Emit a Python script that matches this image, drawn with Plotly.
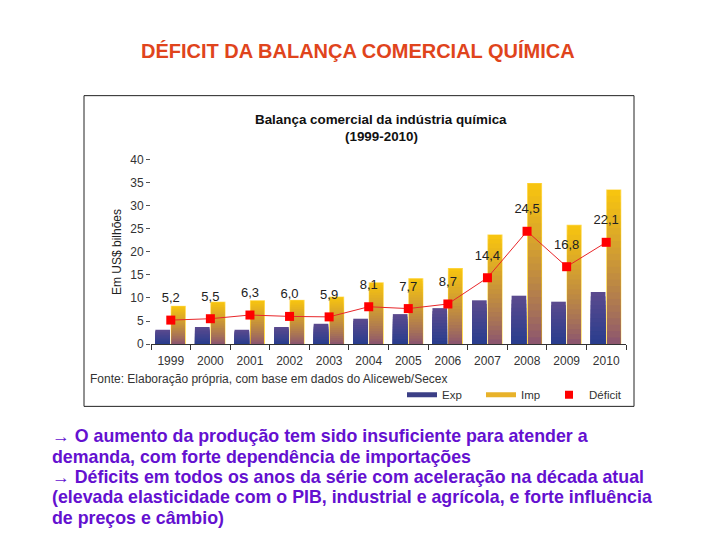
import plotly.graph_objects as go

years = ["1999", "2000", "2001", "2002", "2003", "2004", "2005", "2006", "2007", "2008", "2009", "2010"]
exp_vals = [3.1, 3.7, 3.1, 3.7, 4.4, 5.5, 6.5, 7.8, 9.5, 10.5, 9.2, 11.3]
imp_vals = [8.3, 9.2, 9.5, 9.6, 10.3, 13.4, 14.3, 16.5, 23.8, 35.0, 25.9, 33.6]
deficit_vals = [5.2, 5.5, 6.3, 6.0, 5.9, 8.1, 7.7, 8.7, 14.4, 24.5, 16.8, 22.1]
y_ticks = [0, 5, 10, 15, 20, 25, 30, 35, 40]

W, H = 720, 540
FONT = "Arial, Liberation Sans, sans-serif"


def px(x):
    return x / W


def py(y):
    return 1 - y / H


def lerp(c1, c2, t):
    return "rgb({},{},{})".format(*[round(a + (b - a) * t) for a, b in zip(c1, c2)])


fig = go.Figure()

# Exp bars with vertical gradient (overlay of fractions of each value)
EXP_TOP, EXP_BOT = (90, 74, 142), (38, 60, 142)
N_EXP = 12
for k in range(N_EXP):
    f = 1 - k / N_EXP
    fig.add_trace(go.Bar(
        x=years, y=[v * f for v in exp_vals],
        offset=-0.39, width=0.37,
        marker=dict(color=lerp(EXP_BOT, EXP_TOP, f), line=dict(width=0)),
        showlegend=False, hoverinfo="skip" if k else "x+y", name="Exp",
    ))

# Imp bars: light border + gradient (gold top -> mauve bottom)
fig.add_trace(go.Bar(
    x=years, y=imp_vals, offset=0.0, width=0.38,
    marker=dict(color="#FFD84A", line=dict(width=0)),
    showlegend=False, name="Imp",
))
IMP_TOP, IMP_BOT = (247, 196, 16), (132, 78, 118)
N_IMP = 24
for k in range(N_IMP):
    f = 1 - k / N_IMP
    fig.add_trace(go.Bar(
        x=years, y=[v * f - (0.12 if k == 0 else 0) for v in imp_vals],
        offset=0.025, width=0.33,
        marker=dict(color=lerp(IMP_BOT, IMP_TOP, f ** 0.8), line=dict(width=0)),
        showlegend=False, hoverinfo="skip", name="Imp",
    ))

# Deficit line
fig.add_trace(go.Scatter(
    x=years, y=deficit_vals, mode="lines+markers", name="Déficit",
    line=dict(color="#E8262A", width=1),
    marker=dict(symbol="square", size=9, color="#FF0000"),
    showlegend=False,
))
# Deficit value labels (invisible larger marker pushes text up)
fig.add_trace(go.Scatter(
    x=years, y=deficit_vals, mode="markers+text", texttemplate="%{y:.1f}",
    textposition="top center", textfont=dict(family=FONT, size=13, color="#222"),
    marker=dict(size=22, opacity=0), showlegend=False, hoverinfo="skip",
))

# legend entries
fig.add_trace(go.Scatter(x=[years[0]], y=[None], mode="lines", name="Exp",
                         line=dict(color="#3B3F86", width=5), legend="legend"))
fig.add_trace(go.Scatter(x=[years[0]], y=[None], mode="lines", name="Imp",
                         line=dict(color="#E8B22A", width=5), legend="legend"))
fig.add_trace(go.Scatter(x=[years[0]], y=[None], mode="markers", name="Déficit",
                         marker=dict(symbol="square", size=8, color="#FF0000"), legend="legend2"))

annotations = []
# slide title
annotations.append(dict(
    x=px(358), y=py(45), xref="paper", yref="paper", xanchor="center", yanchor="middle",
    text="<b>DÉFICIT DA BALANÇA COMERCIAL QUÍMICA</b>", showarrow=False,
    font=dict(family=FONT, size=20, color="#E0441C"),
))
# chart title
annotations.append(dict(
    x=px(381), y=py(116), xref="paper", yref="paper", xanchor="center", yanchor="middle",
    text="<b>Balança comercial da indústria química</b>", showarrow=False,
    font=dict(family=FONT, size=13.4, color="#111"),
))
annotations.append(dict(
    x=px(381), y=py(133), xref="paper", yref="paper", xanchor="center", yanchor="middle",
    text="<b>(1999-2010)</b>", showarrow=False,
    font=dict(family=FONT, size=13.4, color="#111"),
))
# source
annotations.append(dict(
    x=px(88), y=py(382), xref="paper", yref="paper", xanchor="left", yanchor="middle",
    text="Fonte: Elaboração própria, com base em dados do Aliceweb/Secex", showarrow=False,
    font=dict(family=FONT, size=12, color="#333"),
))

# bottom text
lines = [
    ("→ ", "O aumento da produção tem sido insuficiente para atender a"),
    ("", "demanda, com forte dependência de importações"),
    ("→ ", "Déficits em todos os anos da série com aceleração na década atual"),
    ("", "(elevada elasticidade com o PIB, industrial e agrícola, e forte influência"),
    ("", "de preços e câmbio)"),
]
line_y = [440.5, 461.5, 482.5, 503.5, 525]
for (arrow, txt), yy in zip(lines, line_y):
    annotations.append(dict(
        x=px(50), y=py(yy), xref="paper", yref="paper", xanchor="left", yanchor="middle",
        text=(f"<span style='font-weight:normal'>{arrow}</span>" if arrow else "") + f"<b>{txt}</b>",
        showarrow=False, font=dict(family=FONT, size=17.8, color="#6410D0"),
    ))

fig.update_layout(
    width=W, height=H,
    margin=dict(l=0, r=0, t=0, b=0),
    paper_bgcolor="white", plot_bgcolor="white",
    barmode="overlay",
    separators=", ",
    font=dict(family=FONT, size=11, color="#333"),
    xaxis=dict(
        domain=[px(151), px(626)], type="category",
        categoryorder="array", categoryarray=years, range=[-0.5, len(years) - 0.5],
        showgrid=False, showline=True, linecolor="#333", linewidth=1,
        ticks="outside", tickson="boundaries", ticklen=5, tickcolor="#333",
        tickfont=dict(family=FONT, size=12, color="#333"), ticklabelstandoff=6,
    ),
    yaxis=dict(
        domain=[py(346), py(157)], range=[0, 40], tickvals=y_ticks,
        showgrid=False, showline=False, zeroline=False,
        ticks="outside", ticklen=4, tickcolor="#555",
        tickfont=dict(family=FONT, size=12, color="#333"),
        title=dict(text="Em US$ bilhões", font=dict(family=FONT, size=12, color="#222"), standoff=6),
    ),
    legend=dict(
        orientation="h", x=px(402), xanchor="left", y=py(398), yanchor="middle",
        font=dict(family=FONT, size=11.5, color="#333"), bgcolor="rgba(0,0,0,0)",
        entrywidth=34, entrywidthmode="pixels", itemwidth=30,
    ),
    legend2=dict(
        orientation="h", x=px(549), xanchor="left", y=py(398), yanchor="middle",
        font=dict(family=FONT, size=11.5, color="#333"), bgcolor="rgba(0,0,0,0)",
        itemwidth=30,
    ),
    shapes=[dict(type="rect", xref="paper", yref="paper",
                 x0=px(84), x1=px(634), y0=py(410), y1=py(91),
                 line=dict(color="#222", width=1), fillcolor="rgba(0,0,0,0)", layer="below")],
    annotations=annotations,
    showlegend=True,
)

fig.write_html(
    "out.html",
    config={"displayModeBar": False},
    post_script=(
        "document.body.style.margin='0';"
        "var gd=document.getElementById('{plot_id}');"
        "gd.style.position='absolute';gd.style.top='0px';gd.style.left='0px';"
    ),
)
